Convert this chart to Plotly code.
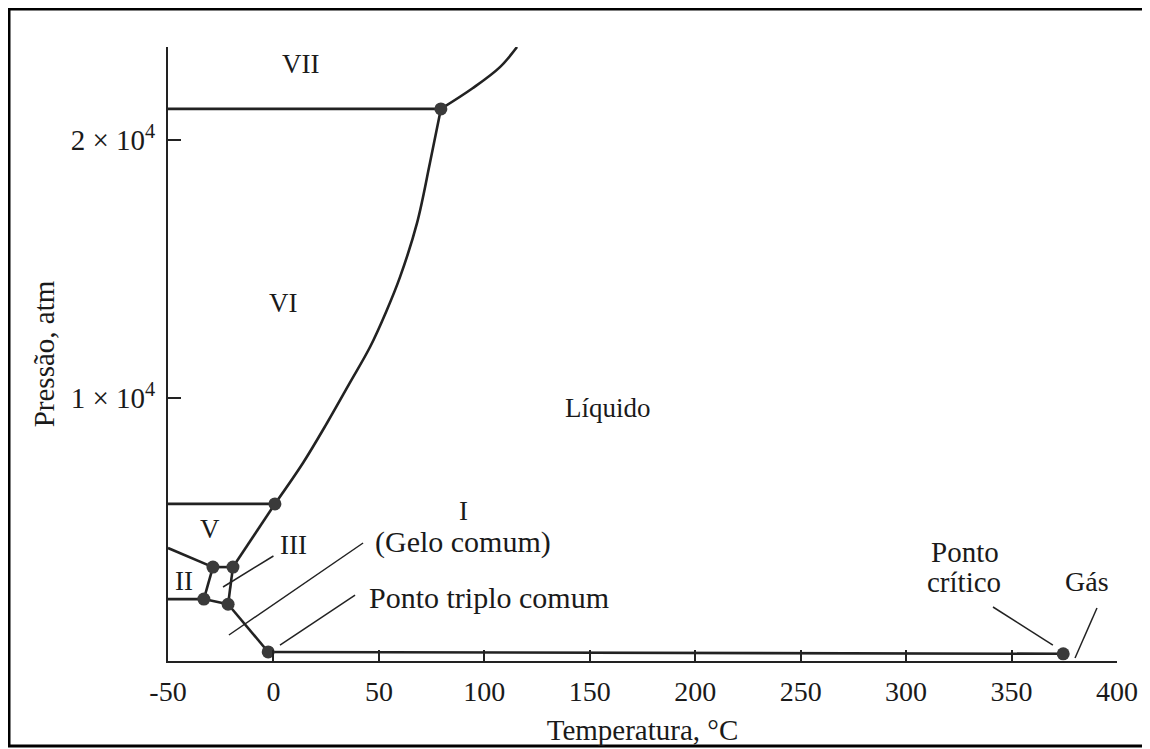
import plotly.graph_objects as go

# ---------------- data (T in °C, P in atm) ----------------
# vapour-pressure line: triple point -> critical point
vap_T = [-2.5, 374.5]
vap_P = [150, 80]

# ice I / liquid melting line
melt_I_T = [-2.5, -21.5]
melt_I_P = [150, 2000]

# ice I / II boundary (from left axis)
I_II_T = [-50, -33.0]
I_II_P = [2200, 2200]

# ice I / III
I_III_T = [-33.0, -21.5]
I_III_P = [2200, 2000]

# ice II / III
II_III_T = [-33.0, -28.7]
II_III_P = [2200, 3440]

# ice III / V
III_V_T = [-28.7, -19.2]
III_V_P = [3440, 3440]

# ice III / liquid
III_L_T = [-19.2, -21.5]
III_L_P = [3440, 2000]

# ice II / V (from left axis)
II_V_T = [-50, -28.7]
II_V_P = [4180, 3440]

# ice V / liquid
V_L_T = [-19.2, 0.7]
V_L_P = [3440, 5890]

# ice V / VI (from left axis)
V_VI_T = [-50, 0.7]
V_VI_P = [5890, 5890]

# ice VI / liquid (curve)
VI_L_T = [0.7, 14.0, 25.4, 36.0, 45.8, 53.5, 60.0, 68.1, 74.2, 79.4]
VI_L_P = [5890, 7475, 9025, 10550, 11970, 13350, 14680, 16780, 19100, 21200]

# ice VI / VII (from left axis)
VI_VII_T = [-50, 79.4]
VI_VII_P = [21200, 21200]

# ice VII / liquid (curve)
VII_L_T = [79.4, 94.6, 107.4, 115.5]
VII_L_P = [21200, 22010, 22820, 23600]

# triple points + critical point (dots)
dot_T = [-2.5, -21.5, -33.0, -28.7, -19.2, 0.7, 79.4, 374.5]
dot_P = [150, 2000, 2200, 3440, 3440, 5890, 21200, 80]

# region / annotation labels
label_text = ["VII", "VI", "Líquido", "I", "(Gelo comum)", "V", "III", "II",
              "Ponto triplo comum", "Ponto", "crítico", "Gás"]
label_T = [12.6, 5.0, 158.6, 89.9, 89.9, -30.1, 9.5, -42.4, 102.2, 327.9, 327.4, 385.8]
label_P = [22940, 13675, 9606, 5614, 4412, 4916, 4296, 2900, 2280, 4025, 2862, 2900]
label_size = [27, 27, 27, 27, 30, 27, 27, 27, 30, 29, 29, 28]

# leader lines
lead_III_T = [-23.9, 0.0]
lead_III_P = [2668, 3870]
lead_gelo_T = [-21.1, 42.5]
lead_gelo_P = [808, 4374]
lead_triplo_T = [3.1, 38.7]
lead_triplo_P = [420, 2358]
lead_crit_T = [341.2, 369.6]
lead_crit_P = [1893, 420]
lead_gas_T = [390.5, 380.1]
lead_gas_P = [1854, -84]

x_ticks = [-50, 0, 50, 100, 150, 200, 250, 300, 350, 400]
y_ticks = [10000, 20000]
y_ticktext = ["1 × 10<sup>4</sup>", "2 × 10<sup>4</sup>"]

# ---------------- figure ----------------
FONT = "Liberation Serif, Times New Roman, serif"
LINE_COLOR = "#222222"
TEXT_COLOR = "#1a1a1a"

fig = go.Figure()

straight = [
    (vap_T, vap_P), (melt_I_T, melt_I_P), (I_II_T, I_II_P), (I_III_T, I_III_P),
    (II_III_T, II_III_P), (III_V_T, III_V_P), (III_L_T, III_L_P), (II_V_T, II_V_P),
    (V_L_T, V_L_P), (V_VI_T, V_VI_P), (VI_VII_T, VI_VII_P),
]
for tx, py in straight:
    fig.add_trace(go.Scatter(x=tx, y=py, mode="lines",
                             line=dict(color=LINE_COLOR, width=2.6),
                             hoverinfo="skip", showlegend=False, cliponaxis=False))
for tx, py in [(VI_L_T, VI_L_P), (VII_L_T, VII_L_P)]:
    fig.add_trace(go.Scatter(x=tx, y=py, mode="lines",
                             line=dict(color=LINE_COLOR, width=2.6, shape="spline", smoothing=1.0),
                             hoverinfo="skip", showlegend=False, cliponaxis=False))

leaders = [(lead_III_T, lead_III_P), (lead_gelo_T, lead_gelo_P), (lead_triplo_T, lead_triplo_P),
           (lead_crit_T, lead_crit_P), (lead_gas_T, lead_gas_P)]
for tx, py in leaders:
    fig.add_trace(go.Scatter(x=tx, y=py, mode="lines",
                             line=dict(color=LINE_COLOR, width=1.5),
                             hoverinfo="skip", showlegend=False, cliponaxis=False))

fig.add_trace(go.Scatter(x=dot_T, y=dot_P, mode="markers",
                         marker=dict(size=13, color="#3a3a3a", line=dict(width=0)),
                         hoverinfo="skip", showlegend=False, cliponaxis=False))

for txt, tx, py, fs in zip(label_text, label_T, label_P, label_size):
    fig.add_annotation(x=tx, y=py, text=txt, showarrow=False,
                       xanchor="center", yanchor="middle",
                       font=dict(family=FONT, size=fs, color=TEXT_COLOR))

# layout geometry (page is offset 8px by the browser's body margin)
W, H = 1150, 749
L, R, T, B = 160, 41, 39, 96
pw, ph = W - L - R, H - T - B
def px(xp): return (xp - L) / pw
def py_(yp): return (H - B - yp) / ph

# outer frame around the whole picture
fig.add_shape(type="rect", xref="paper", yref="paper",
              x0=px(1), x1=px(1138), y0=py_(738), y1=py_(1),
              line=dict(color="black", width=3), fillcolor="rgba(0,0,0,0)", layer="above")

fig.update_layout(
    width=W, height=H, autosize=False,
    margin=dict(l=L, r=R, t=T, b=B, pad=0),
    paper_bgcolor="white", plot_bgcolor="white",
    font=dict(family=FONT, size=28, color=TEXT_COLOR),
    showlegend=False,
)
fig.update_xaxes(
    range=[-50, 400], tickvals=x_ticks, ticktext=[str(v) for v in x_ticks],
    ticks="inside", ticklen=11, tickwidth=1.5, tickcolor=LINE_COLOR,
    showline=True, linewidth=2, linecolor=LINE_COLOR,
    showgrid=False, zeroline=False, automargin=False,
    ticklabelstandoff=4,
    tickfont=dict(family=FONT, size=28, color=TEXT_COLOR),
    title=dict(text="Temperatura, °C", font=dict(family=FONT, size=29, color=TEXT_COLOR), standoff=14),
)
fig.update_yaxes(
    range=[-200, 23600], tickvals=y_ticks, ticktext=y_ticktext,
    ticks="inside", ticklen=13, tickwidth=1.5, tickcolor=LINE_COLOR,
    showline=True, linewidth=2, linecolor=LINE_COLOR,
    showgrid=False, zeroline=False, automargin=False,
    ticklabelstandoff=5,
    tickfont=dict(family=FONT, size=29, color=TEXT_COLOR),
    title=dict(text="Pressão, atm", font=dict(family=FONT, size=29, color=TEXT_COLOR), standoff=8),
)

fig.write_html("out.html")
